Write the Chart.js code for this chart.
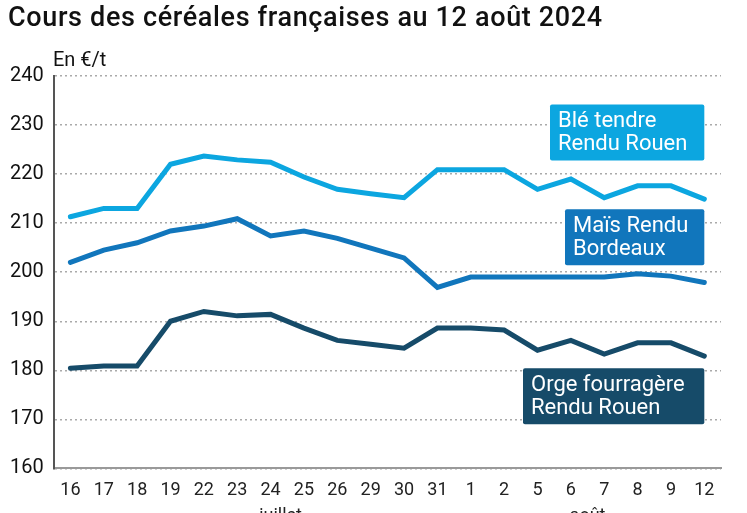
<!DOCTYPE html>
<html lang="fr">
<head>
<meta charset="UTF-8">
<title>Cours des céréales françaises</title>
<script src="https://cdn.jsdelivr.net/npm/chart.js"></script>
<style>
  html, body { margin: 0; padding: 0; background: #fff; }
  #wrap { position: relative; width: 747px; height: 513px; overflow: hidden; }
  h1 { position: absolute; left: 8px; top: 1px; margin: 0; font: 500 27px Roboto, sans-serif; color: #111; letter-spacing: 0.65px; }
  #unit { position: absolute; left: 53px; top: 47px; font: 20px Roboto, sans-serif; color: #111; }
</style>
</head>
<body>
<div id="wrap">
  <h1>Cours des céréales françaises au 12 août 2024</h1>
  <div id="unit">En €/t</div>
  <canvas id="chart" width="747" height="513"></canvas>
</div>
<script>
// jours de cotation (juillet puis août)
const days = ['16','17','18','19','22','23','24','25','26','29','30','31','1','2','5','6','7','8','9','12'];
// nom du mois et position (en index de catégorie) sous l'axe
const months = [{ label: 'juillet', at: 6.3 }, { label: 'août', at: 15.5 }];

const ble   = [211.3, 213, 213, 222, 223.7, 222.9, 222.4, 219.4, 216.9, 216, 215.2, 220.9, 220.9, 220.9, 216.9, 219, 215.2, 217.6, 217.6, 214.9];
const mais  = [202, 204.5, 206, 208.4, 209.4, 210.9, 207.4, 208.4, 206.9, 204.9, 202.9, 196.9, 199, 199, 199, 199, 199, 199.7, 199.2, 197.9];
const orge  = [180.4, 180.9, 180.9, 190, 192, 191.1, 191.4, 188.6, 186.1, 185.3, 184.5, 188.6, 188.6, 188.2, 184.1, 186.1, 183.3, 185.6, 185.6, 182.9];

const yTicks = [160, 170, 180, 190, 200, 210, 220, 230, 240];

// étiquettes des séries, centrées sur une valeur y
const labels = [
  { lines: ['Blé tendre', 'Rendu Rouen'], color: '#0ca6e0', y: 228.5, left: 550 },
  { lines: ['Maïs Rendu', 'Bordeaux'],    color: '#1176bc', y: 207.1, left: 565 },
  { lines: ['Orge fourragère', 'Rendu Rouen'], color: '#164b69', y: 174.7, left: 523 }
];

const boxPlugin = {
  id: 'boxes',
  afterDatasetsDraw(chart) {
    const ctx = chart.ctx;
    const x = chart.scales.x, y = chart.scales.y;
    const right = x.getPixelForValue(days.length - 1);
    ctx.save();
    ctx.font = '22px Roboto';
    labels.forEach(l => {
      const cy = y.getPixelForValue(l.y);
      const h = 56;
      ctx.fillStyle = l.color;
      ctx.beginPath();
      ctx.roundRect(l.left, cy - h / 2, right - l.left, h, 2);
      ctx.fill();
      ctx.fillStyle = '#fff';
      ctx.textBaseline = 'middle';
      ctx.fillText(l.lines[0], l.left + 8, cy - 11);
      ctx.fillText(l.lines[1], l.left + 8, cy + 12);
    });
    // mois sous l'axe
    ctx.fillStyle = '#222';
    ctx.font = '18px Roboto';
    ctx.textAlign = 'center';
    ctx.textBaseline = 'top';
    months.forEach(m => {
      ctx.fillText(m.label, x.getPixelForValue(m.at), 507);
    });
    ctx.restore();
  }
};

const line = (data, color) => ({
  data, borderColor: color, borderWidth: 5, pointRadius: 0, tension: 0,
  borderJoinStyle: 'miter', borderCapStyle: 'round', fill: false
});

new Chart(document.getElementById('chart'), {
  type: 'line',
  data: {
    labels: days,
    datasets: [line(ble, '#0ca6e0'), line(mais, '#1176bc'), line(orge, '#164b69')]
  },
  options: {
    responsive: false,
    animation: false,
    layout: { padding: { top: 76, right: 26, bottom: 1, left: 0 } },
    plugins: { legend: { display: false }, tooltip: { enabled: false } },
    scales: {
      x: {
        offset: true,
        grid: { display: false, drawTicks: false },
        border: { display: true, color: '#999', width: 2 },
        ticks: { color: '#222', font: { family: 'Roboto', size: 18 }, padding: 11, maxRotation: 0, autoSkip: false }
      },
      y: {
        min: 160, max: 240,
        afterBuildTicks: s => { s.ticks = yTicks.map(v => ({ value: v })); },
        grid: { color: '#aaa', lineWidth: 1.5, drawTicks: false },
        border: { display: true, color: '#555', width: 2, dash: [2, 3] },
        ticks: { color: '#111', font: { family: 'Roboto', size: 20 }, padding: 10 }
      }
    }
  },
  plugins: [boxPlugin]
});
</script>
</body>
</html>
